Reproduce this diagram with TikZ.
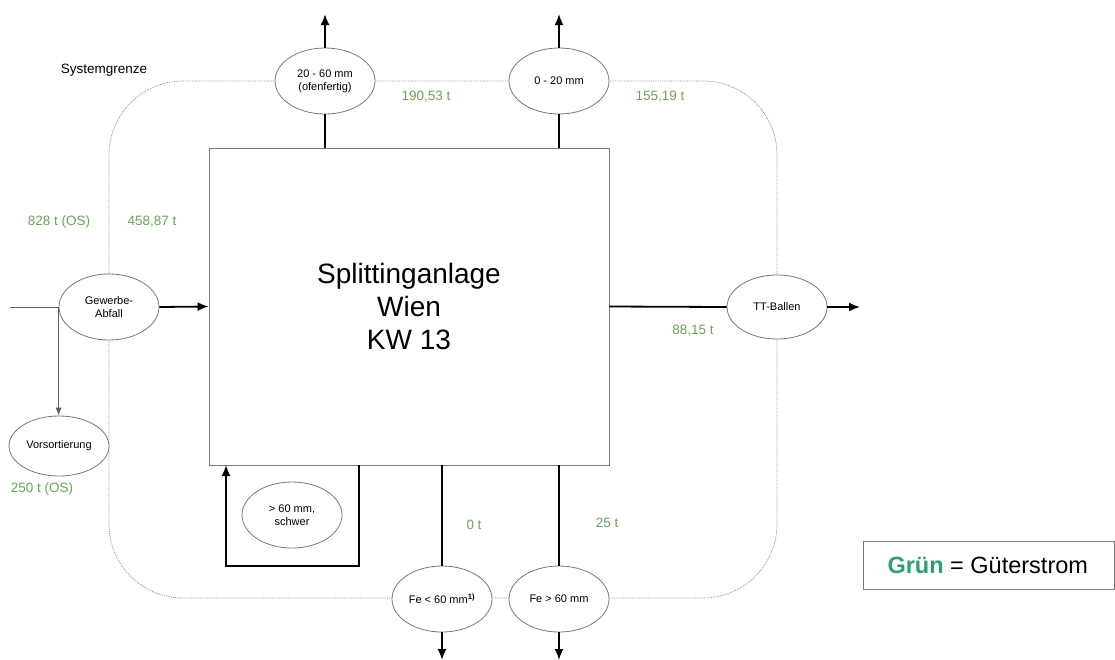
\documentclass[tikz,border=0pt]{standalone}
\usepackage{fontspec}
\setmainfont{Liberation Sans}
\usetikzlibrary{shapes.geometric,arrows.meta}
\definecolor{flowgreen}{RGB}{108,162,90}
\definecolor{legendgreen}{RGB}{46,160,112}
\definecolor{edgegray}{RGB}{120,120,120}
\begin{document}
\begin{tikzpicture}[x=1pt,y=-1pt,
  node/.style={ellipse,draw=edgegray,line width=0.8pt,fill=white,minimum width=100pt,minimum height=66pt,inner sep=0pt,align=center,font=\fontsize{11}{13}\selectfont},
  flow/.style={line width=1.8pt,black},
  flowarrow/.style={flow,-{Latex[length=11pt,width=9pt]}},
  thin/.style={line width=0.8pt,edgegray!80!black},
  mass/.style={text=flowgreen,font=\fontsize{13.5}{15}\selectfont},
  border/.style={densely dotted,line width=0.8pt,black!45}]
\useasboundingbox (0,0) rectangle (1115,659);
\fill[white] (0,0) rectangle (1115,659);

% system boundary
\draw[border,rounded corners=74pt] (109,81) rectangle (777,598);
\node[font=\fontsize{13.5}{15}\selectfont] (sg) at (104,70) {Systemgrenze};

% main plant
\node[draw=edgegray,line width=0.9pt,fill=white,minimum width=400pt,minimum height=317pt,inner sep=0pt,align=center,
      font=\fontsize{28}{33}\selectfont] (box) at (409,306.5) {Splittinganlage\\Wien\\KW 13};

% product nodes
\node[node] (gew) at (109,307) {Gewerbe-\\Abfall};
\node[node,minimum height=60pt] (vor) at (59,446) {Vorsortierung};
\node[node] (mid) at (325,81) {20 - 60 mm\\(ofenfertig)};
\node[node] (fine) at (559,81) {0 - 20 mm};
\node[node,minimum height=64pt] (tt) at (777,307) {TT-Ballen};
\node[node] (fes) at (442,599) {Fe < 60 mm\textsuperscript{\textbf{1)}}};
\node[node] (fel) at (559,599) {Fe > 60 mm};
\node[node] (heavy) at (292,515) {> 60 mm,\\schwer};

% input and pre-sorting
\coordinate (in) at (10,307);
\draw[thin] (in) -- (gew.west);
\draw[thin,-{Latex[length=8pt,width=6pt]}] (gew.west) -- (gew.west |- vor.north);
\draw[flowarrow] (gew.east) -- (box.west);

% outputs at the top
\coordinate (midout) at (325,14);
\coordinate (fineout) at (559,14);
\draw[flow] (mid.south |- box.north) -- (mid.south);
\draw[flowarrow] (mid.north) -- (midout);
\draw[flow] (fine.south |- box.north) -- (fine.south);
\draw[flowarrow] (fine.north) -- (fineout);

% output on the right
\coordinate (ttout) at (860,307);
\draw[flow] (box.east) -- (tt.west);
\draw[flowarrow] (tt.east) -- (ttout);

% ferrous outputs at the bottom
\coordinate (fesout) at (442,660);
\coordinate (felout) at (559,660);
\draw[flow] (fes.north |- box.south) -- (fes.north);
\draw[flowarrow] (fes.south) -- (fesout);
\draw[flow] (fel.north |- box.south) -- (fel.north);
\draw[flowarrow] (fel.south) -- (felout);

% return loop of the heavy fraction
\coordinate (loopa) at (359,465);
\coordinate (loopb) at (359,566);
\coordinate (loopc) at (226,566);
\coordinate (loopd) at (226,465);
\draw[flowarrow,line join=miter] (loopa) -- (loopb) -- (loopc) -- (loopd);

% mass flows
\node[mass] (m1) at (59,222) {828 t (OS)};
\node[mass] (m2) at (152,222) {458,87 t};
\node[mass] (m3) at (426,97) {190,53 t};
\node[mass] (m4) at (660,97) {155,19 t};
\node[mass] (m5) at (693,331) {88,15 t};
\node[mass] (m6) at (474,525) {0 t};
\node[mass] (m7) at (607,523) {25 t};
\node[mass] (m8) at (42,489) {250 t (OS)};

% legend
\node[draw=edgegray,line width=1pt,minimum width=251pt,minimum height=48pt,inner sep=0pt] (leg) at (988.5,565) {};
\node[anchor=west,font=\fontsize{23.5}{26}\selectfont] (legtxt) at (884,565)
  {\textcolor{legendgreen}{\textbf{Grün}} = Güterstrom};
\end{tikzpicture}
\end{document}
